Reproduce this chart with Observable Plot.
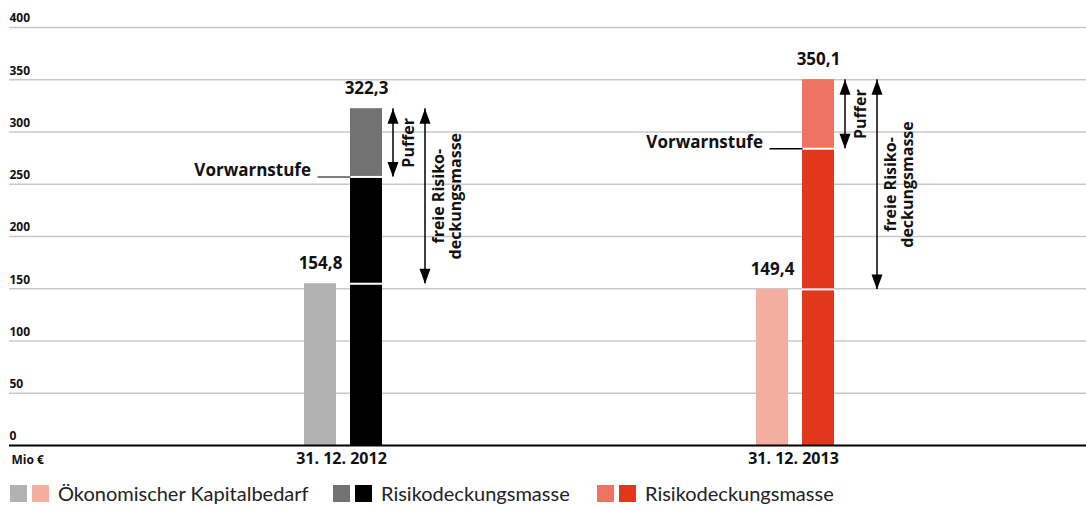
<!DOCTYPE html>
<html>
<head>
<meta charset="utf-8">
<script src="https://cdn.jsdelivr.net/npm/d3@7"></script>
<script src="https://cdn.jsdelivr.net/npm/@observablehq/plot@0.6"></script>
<style>
  html, body { margin: 0; padding: 0; background: #fff; }
  #wrap { position: relative; width: 1086px; height: 506px; font-family: Lato, "Open Sans", sans-serif; }
  #legend { position: absolute; left: 0; top: 478px; width: 1086px; height: 28px; }
  .item { position: absolute; top: 7px; display: flex; align-items: center; height: 17px; }
  .sw { width: 17px; height: 17px; margin-right: 5px; }
  .lab { margin-left: 4px; font-size: 20px; color: #222; line-height: 17px; white-space: nowrap; }
</style>
</head>
<body>
<div id="wrap"><div id="chart"></div><div id="legend"></div></div>
<script>
// ---- data ----
const dates = ["31. 12. 2012", "31. 12. 2013"];
const kapitalbedarf = [154.8, 149.4];
const vorwarnstufe = [257, 284];
const risikodeckungsmasse = [322.3, 350.1];
const kapitalLabels = ["154,8", "149,4"];
const rdmLabels = ["322,3", "350,1"];
const yTicks = [0, 50, 100, 150, 200, 250, 300, 350, 400];
const colorsKapital = ["#b2b2b2", "#f4ae9f"];
const colorsLower = ["#000000", "#e2371a"];
const colorsUpper = ["#727272", "#ef7360"];
const leaderColors = ["#555555", "#000000"];
const legendItems = [
  {colors: ["#b2b2b2", "#f4ae9f"], label: "Ökonomischer Kapitalbedarf", left: 10},
  {colors: ["#727272", "#000000"], label: "Risikodeckungsmasse", left: 333},
  {colors: ["#ef7360", "#e2371a"], label: "Risikodeckungsmasse", left: 597}
];

const rows = dates.map((d, i) => ({
  date: d, kap: kapitalbedarf[i], vw: vorwarnstufe[i], rdm: risikodeckungsmasse[i],
  kapLabel: kapitalLabels[i], rdmLabel: rdmLabels[i],
  cKap: colorsKapital[i], cLow: colorsLower[i], cUp: colorsUpper[i], cLead: leaderColors[i]
}));

const arrowUp = {draw(ctx) { ctx.moveTo(0, 0); ctx.lineTo(5.5, 15); ctx.lineTo(-5.5, 15); ctx.closePath(); }};
const arrowDown = {draw(ctx) { ctx.moveTo(0, 0); ctx.lineTo(5.5, -15); ctx.lineTo(-5.5, -15); ctx.closePath(); }};

const bold = {fontWeight: "bold", fill: "#111"};

const chart = Plot.plot({
  width: 1086,
  height: 478,
  marginTop: 27,
  marginBottom: 33,
  marginLeft: 9,
  marginRight: 0,
  style: {fontFamily: "'Open Sans', Lato, sans-serif", fontSize: "11px", background: "#fff"},
  x: {type: "band", domain: dates, range: [116.5, 1020.5], padding: 0, axis: null},
  y: {domain: [0, 400], axis: null},
  color: {type: "identity"},
  marks: [
    Plot.ruleY(yTicks.filter(t => t > 0), {stroke: "#c8c8c8", strokeWidth: 1.5}),
    // y tick labels
    Plot.text(yTicks, {y: d => d, text: d => String(d), frameAnchor: "left", textAnchor: "start", dy: -9, fontSize: 12, ...bold}),
    // bars
    Plot.barY(rows, {x: "date", y1: d => 0, y2: "kap", fill: "cKap", insetLeft: 187, insetRight: 233}),
    Plot.barY(rows, {x: "date", y1: d => 0, y2: "vw", fill: "cLow", insetLeft: 233, insetRight: 187}),
    Plot.barY(rows, {x: "date", y1: "vw", y2: "rdm", fill: "cUp", insetLeft: 233, insetRight: 187}),
    // white separators
    Plot.tickY(rows, {x: "date", y: "kap", stroke: "#fff", strokeWidth: 2, insetLeft: 233, insetRight: 187}),
    Plot.tickY(rows, {x: "date", y: "vw", stroke: "#fff", strokeWidth: 2, insetLeft: 233, insetRight: 187}),
    // Vorwarnstufe leader + label
    Plot.tickY(rows, {x: "date", y: "vw", stroke: "cLead", strokeWidth: 1.5, insetLeft: 200.5, insetRight: 218.5}),
    Plot.text(rows, {x: "date", y: "vw", text: () => "Vorwarnstufe", textAnchor: "end", dx: -32.5, dy: -6, fontSize: 17, ...bold}),
    // baseline
    Plot.ruleY([0], {stroke: "#000", strokeWidth: 2}),
    // value labels
    Plot.text(rows, {x: "date", y: "kap", text: "kapLabel", dx: -23, dy: -20, fontSize: 17, ...bold}),
    Plot.text(rows, {x: "date", y: "rdm", text: "rdmLabel", dx: 23, dy: -20, fontSize: 17, ...bold}),
    // Puffer arrow
    Plot.ruleX(rows, {x: "date", y1: "vw", y2: "rdm", dx: 49.5, stroke: "#000", strokeWidth: 1.5}),
    Plot.dot(rows, {x: "date", y: "rdm", dx: 49.5, symbol: arrowUp, fill: "#000", stroke: "none"}),
    Plot.dot(rows, {x: "date", y: "vw", dx: 49.5, symbol: arrowDown, fill: "#000", stroke: "none"}),
    Plot.text(rows, {x: "date", y: d => (d.vw + d.rdm) / 2, text: () => "Puffer", rotate: -90, dx: 65, fontSize: 16, ...bold}),
    // freie Risikodeckungsmasse arrow
    Plot.ruleX(rows, {x: "date", y1: "kap", y2: "rdm", dx: 81.5, stroke: "#000", strokeWidth: 1.5}),
    Plot.dot(rows, {x: "date", y: "rdm", dx: 81.5, symbol: arrowUp, fill: "#000", stroke: "none"}),
    Plot.dot(rows, {x: "date", y: "kap", dx: 81.5, symbol: arrowDown, fill: "#000", stroke: "none"}),
    Plot.text(rows, {x: "date", y: d => (d.kap + d.rdm) / 2, text: () => "freie Risiko-\ndeckungsmasse", rotate: -90, dx: 104, lineHeight: 1.05, fontSize: 16, ...bold}),
    // date labels & unit
    Plot.text(rows, {x: "date", text: "date", frameAnchor: "bottom", dx: -2, dy: 18, fontSize: 16, ...bold}),
    Plot.text(["Mio €"], {frameAnchor: "bottom-left", textAnchor: "start", dx: 2, dy: 18, fontSize: 12, ...bold})
  ]
});
document.getElementById("chart").appendChild(chart);

const legend = document.getElementById("legend");
for (const it of legendItems) {
  const div = document.createElement("div");
  div.className = "item";
  div.style.left = it.left + "px";
  for (const c of it.colors) {
    const s = document.createElement("span");
    s.className = "sw";
    s.style.background = c;
    div.appendChild(s);
  }
  const t = document.createElement("span");
  t.className = "lab";
  t.textContent = it.label;
  div.appendChild(t);
  legend.appendChild(div);
}
</script>
</body>
</html>
